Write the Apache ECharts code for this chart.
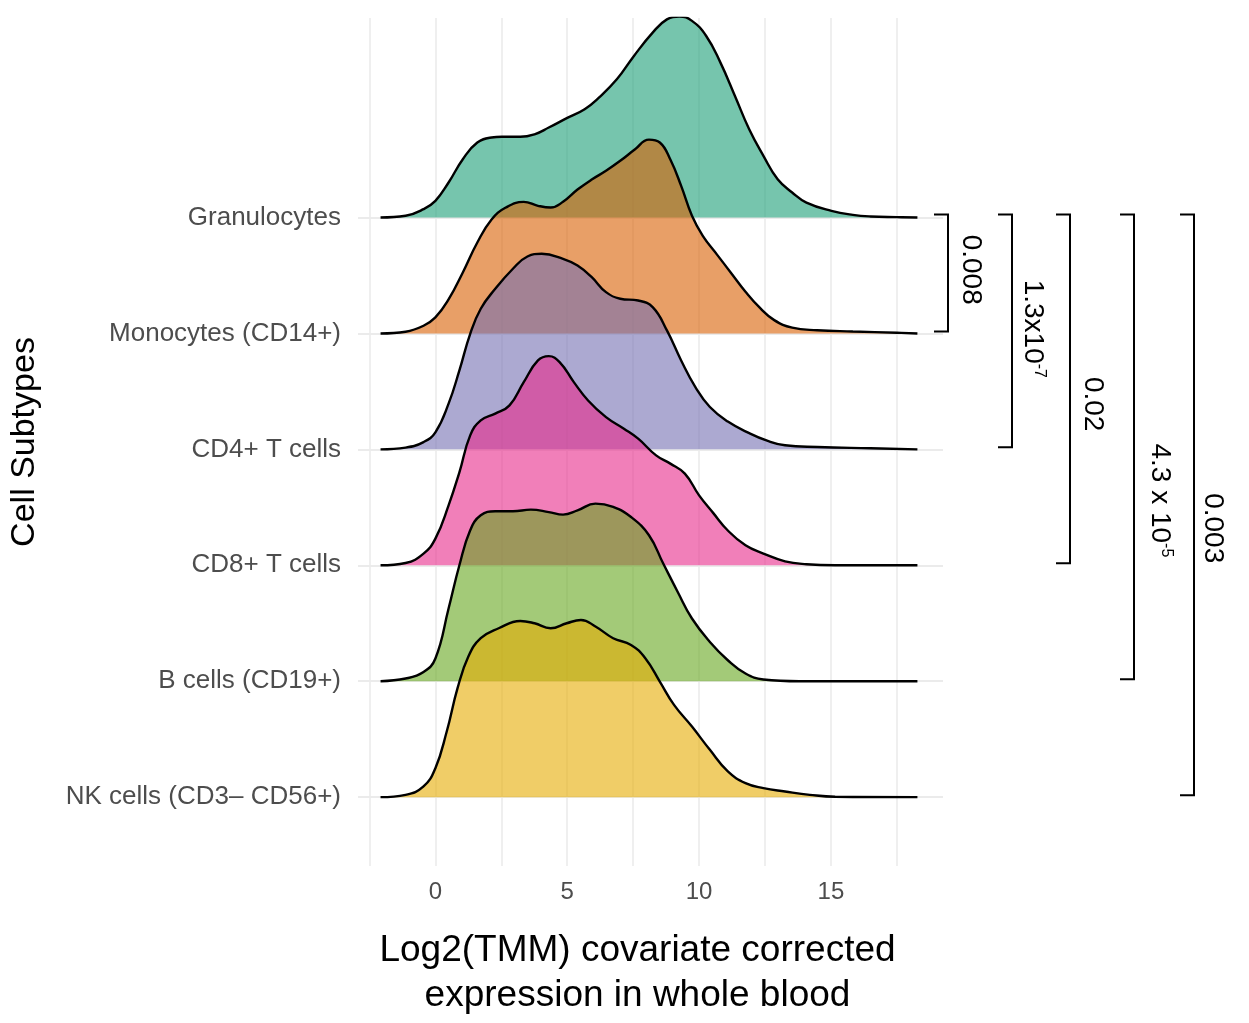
<!DOCTYPE html>
<html>
<head>
    <meta charset="utf-8">
    <title>Cell subtype ridges</title>
    <script type="text/javascript" src="https://cdn.jsdelivr.net/npm/echarts@6/dist/echarts.min.js"></script>
</head>
<body style="margin:0;background:#fff;">
    <div id="chart" style="width:1249px;height:1023px;"></div>
<script type="text/javascript">
    // rows, bottom (0) to top (5)
    var cellTypes = ['NK cells (CD3\u2013 CD56+)', 'B cells (CD19+)', 'CD8+ T cells',
                     'CD4+ T cells', 'Monocytes (CD14+)', 'Granulocytes'];
    var rowColors = ['#E6AB02', '#66A61E', '#E7298A', '#7570B3', '#D95F02', '#1B9E77'];
    var xLabels = [0, 5, 10, 15];
    var xGridAt = [-2.5, 0, 2.5, 5, 7.5, 10, 12.5, 15, 17.5];

    // density curves, height in row units
    var granX = [-2.08,-1.13,-0.45,0,0.5,1.04,1.59,2.13,2.52,3.22,3.76,4.3,5.02,5.66,6.2,6.88,7.53,8.24,8.78,9.25,9.73,10.27,10.81,11.36,11.9,12.44,12.98,13.53,14.07,15.02,15.83,16.5,17.5,18.28];
    var granH = [0,0.015,0.072,0.144,0.302,0.503,0.647,0.69,0.696,0.696,0.718,0.776,0.862,0.934,1.034,1.192,1.394,1.595,1.709,1.733,1.696,1.566,1.336,1.049,0.761,0.532,0.33,0.216,0.129,0.058,0.023,0.009,0.003,0];

    var monoX = [-2.08,-1.13,-0.45,0,0.5,1.04,1.59,2.13,2.67,3.35,3.89,4.37,4.84,5.39,5.93,6.47,7.01,7.56,8.1,8.51,8.91,9.32,9.73,10.14,10.68,11.22,11.76,12.31,12.85,13.53,14.48,15.83,17.5,18.28];
    var monoH = [0,0.015,0.066,0.138,0.293,0.526,0.784,0.983,1.086,1.135,1.101,1.086,1.135,1.241,1.328,1.403,1.489,1.586,1.672,1.647,1.5,1.273,1.015,0.842,0.68,0.52,0.36,0.22,0.115,0.05,0.028,0.017,0.006,0];

    var cd4X = [-2.08,-1.13,-0.45,0,0.5,0.91,1.32,1.72,2.27,2.94,3.49,4.03,4.84,5.39,5.93,6.47,7.01,7.69,8.24,8.78,9.32,9.86,10.41,11.09,11.9,12.58,13.26,14.48,16.5,18.28];
    var cd4H = [0,0.015,0.063,0.147,0.394,0.681,0.997,1.213,1.385,1.558,1.664,1.687,1.644,1.586,1.485,1.356,1.299,1.284,1.227,1.026,0.767,0.537,0.365,0.24,0.14,0.075,0.035,0.02,0.009,0];

    var cd8X = [-2.08,-1.13,-0.45,0,0.5,0.91,1.32,1.72,2.27,2.81,3.35,3.89,4.3,4.71,5.25,5.79,6.47,7.15,7.69,8.37,8.91,9.46,10,10.54,11.09,11.76,12.44,13.26,14.07,15.16,18.28];
    var cd8H = [0,0.02,0.101,0.23,0.517,0.802,1.121,1.25,1.308,1.379,1.58,1.767,1.804,1.753,1.58,1.422,1.278,1.178,1.092,0.948,0.877,0.791,0.603,0.45,0.3,0.172,0.101,0.034,0.009,0,0];

    var bX = [-2.08,-1.13,-0.45,0,0.5,0.91,1.32,1.72,2.27,2.94,3.62,4.3,4.84,5.39,6.07,6.74,7.42,8.1,8.64,9.19,9.73,10.41,11.09,11.76,12.44,13.8,18.28];
    var bH = [0,0.023,0.08,0.196,0.627,1,1.302,1.431,1.466,1.466,1.48,1.459,1.437,1.474,1.532,1.503,1.416,1.259,1.015,0.77,0.541,0.339,0.181,0.066,0.015,0,0];

    var nkX = [-2.08,-1.13,-0.45,0,0.43,0.84,1.25,1.72,2.4,3.22,3.76,4.37,4.98,5.52,6.07,6.74,7.42,7.96,8.51,9.05,9.73,10.41,11.09,11.76,12.44,13.26,14.2,15.16,18.28];
    var nkH = [0,0.02,0.092,0.25,0.566,0.94,1.213,1.371,1.457,1.52,1.5,1.457,1.5,1.528,1.472,1.371,1.313,1.198,0.997,0.796,0.609,0.408,0.222,0.121,0.078,0.049,0.02,0.003,0];

    // pairwise p-values: bracket from Granulocytes down to row pTo[i]
    var pTo = [4, 3, 2, 1, 0];
    var pText = ['0.008', '1.3x10{s|-7}', '0.02', '4.3 x 10{s|-5}', '0.003'];
    var pLabelRow = [4.55, 4.04, 3.39, 2.56, 2.32];

    // top ridge first so lower ones are painted over it
    var ridges = [
        {row: 5, x: granX, h: granH},
        {row: 4, x: monoX, h: monoH},
        {row: 3, x: cd4X, h: cd4H},
        {row: 2, x: cd8X, h: cd8H},
        {row: 1, x: bX, h: bH},
        {row: 0, x: nkX, h: nkH}
    ];

    var font = '"Liberation Sans", Arial, Helvetica, sans-serif';
    var chart = echarts.init(document.getElementById('chart'));

    chart.setOption({
        animation: false,
        backgroundColor: '#fff',
        grid: {left: 358, right: 306, top: 18, bottom: 155},
        xAxis: {
            type: 'value',
            min: -2.935,
            max: 19.25,
            name: 'Log2(TMM) covariate corrected\nexpression in whole blood',
            nameLocation: 'middle',
            nameGap: 62,
            nameTextStyle: {fontSize: 37, color: '#000', fontFamily: font, lineHeight: 45, padding: [0, 26, 0, 0]},
            axisLine: {show: false},
            axisTick: {show: false, customValues: xGridAt},
            axisLabel: {customValues: xLabels, fontSize: 24, color: '#4d4d4d', fontFamily: font, margin: 14},
            splitLine: {show: true, lineStyle: {color: '#ebebeb', width: 1.6}}
        },
        yAxis: {
            type: 'value',
            min: -0.594,
            max: 6.721,
            name: 'Cell Subtypes',
            nameLocation: 'middle',
            nameRotate: 90,
            nameGap: 316,
            nameTextStyle: {fontSize: 34, color: '#000', fontFamily: font},
            axisLine: {show: false},
            axisTick: {show: false, customValues: [0, 1, 2, 3, 4, 5]},
            axisLabel: {
                customValues: [0, 1, 2, 3, 4, 5],
                fontSize: 26,
                color: '#4d4d4d',
                fontFamily: font,
                margin: 17,
                padding: [4, 0, 0, 0],
                formatter: function (v) { return cellTypes[Math.round(v)]; }
            },
            splitLine: {show: true, lineStyle: {color: '#ebebeb', width: 2}}
        },
        series: ridges.map(function (r) {
            return {
                type: 'line',
                name: cellTypes[r.row],
                silent: true,
                showSymbol: false,
                smooth: 0.45,
                data: r.x.map(function (x, i) { return [x, r.row + r.h[i]]; }),
                lineStyle: {color: '#000', width: 2.4},
                areaStyle: {color: rowColors[r.row], opacity: 0.6, origin: r.row}
            };
        })
    });

    // significance brackets on the right
    var bracketX = [948, 1012, 1070, 1134, 1194];
    var labelX = [971, 1033, 1093, 1160, 1213];
    function rowY(v) { return chart.convertToPixel({gridIndex: 0}, [0, v])[1]; }
    var marks = [];
    pTo.forEach(function (to, i) {
        var x = bracketX[i], top = rowY(5) - 3, bot = rowY(to) - 2;
        marks.push({
            type: 'polyline',
            silent: true,
            shape: {points: [[x - 14, top], [x, top], [x, bot], [x - 14, bot]]},
            style: {stroke: '#000', lineWidth: 2, fill: null}
        });
        marks.push({
            type: 'text',
            silent: true,
            x: labelX[i],
            y: rowY(pLabelRow[i]),
            rotation: -Math.PI / 2,
            style: {
                text: pText[i],
                fontSize: 28,
                fontFamily: font,
                fill: '#000',
                align: 'center',
                verticalAlign: 'middle',
                rich: {s: {fontSize: 16, fontFamily: font, fill: '#000', verticalAlign: 'top'}}
            }
        });
    });
    chart.setOption({graphic: marks});
</script>
</body>
</html>
